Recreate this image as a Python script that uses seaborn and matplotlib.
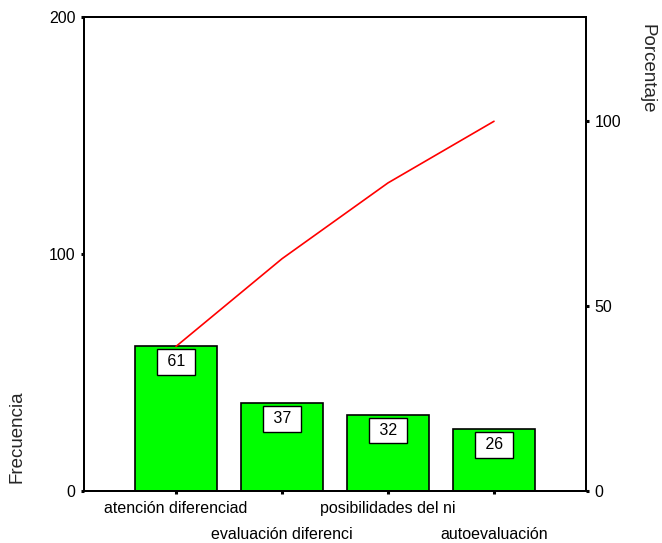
import matplotlib
matplotlib.use("Agg")
import matplotlib.pyplot as plt
import seaborn as sns
import numpy as np
import pandas as pd

categories = ["atención diferenciad", "evaluación diferenci", "posibilidades del ni", "autoevaluación"]
counts = [61, 37, 32, 26]
left_ticks = [0, 100, 200]
right_ticks = [0, 50, 100]

total = sum(counts)
cum_pct = list(np.cumsum(counts) / total * 100)

sns.set_theme(style="white")
plt.rcParams['font.family'] = ['Liberation Sans', 'DejaVu Sans']

fig = plt.figure(figsize=(6.62, 5.43), dpi=100)
ax = fig.add_axes([84/662, 1 - 491/543, (586-84)/662, (491-17)/543])

df = pd.DataFrame({"cat": categories, "n": counts})
sns.barplot(data=df, x="cat", y="n", color="#00ff00", saturation=1,
            edgecolor="black", linewidth=1.2, width=0.774, ax=ax)
ax.set_xlim(-0.868, 3.868)
ax.set_ylim(0, 200)
ax.set_yticks(left_ticks)
ax.set_yticklabels([str(t) for t in left_ticks])
ax.set_xlabel("")
ax.set_ylabel("")

ax.set_xticks(range(len(categories)))
ax.set_xticklabels(categories)

for i, v in enumerate(counts):
    ax.annotate(f" {v} ", xy=(i, v), xytext=(0, -11), textcoords="offset points",
                ha="center", va="center", fontsize=11.5, color="black",
                bbox=dict(boxstyle="square,pad=0.34", fc="white", ec="black", lw=1.0))

ax2 = ax.twinx()
sns.lineplot(x=list(range(len(categories))), y=cum_pct, ax=ax2, color="red", lw=1.2)
ax2.set_ylim(0, 200 / total * 100)
ax2.set_yticks(right_ticks)
ax2.set_yticklabels([str(t) for t in right_ticks])
ax2.set_ylabel("")
ax.set_xlim(-0.868, 3.868)

for a in (ax, ax2):
    for s in a.spines.values():
        s.set_color("black")
        s.set_linewidth(1.4)
    a.tick_params(axis="both", direction="out", length=2.2, width=2.2, color="black",
                  labelsize=11.5, labelcolor="black", pad=4)
ax.tick_params(axis="y", left=True, right=False)
ax.tick_params(axis="x", bottom=True, pad=5)
ax2.tick_params(axis="y", right=True, left=False)

# alternate tick labels across two rows
for i, t in enumerate(ax.xaxis.get_major_ticks()):
    t.set_pad(5 if i % 2 == 0 else 23.5)

fig.text(17.5/662, 1 - 437/543, "Frecuencia", rotation=90, ha="center", va="center", fontsize=13.5)
fig.text(647/662, 1 - 69/543, "Porcentaje", rotation=270, ha="center", va="center", fontsize=13.5)

fig.savefig("out.png", dpi=100)
